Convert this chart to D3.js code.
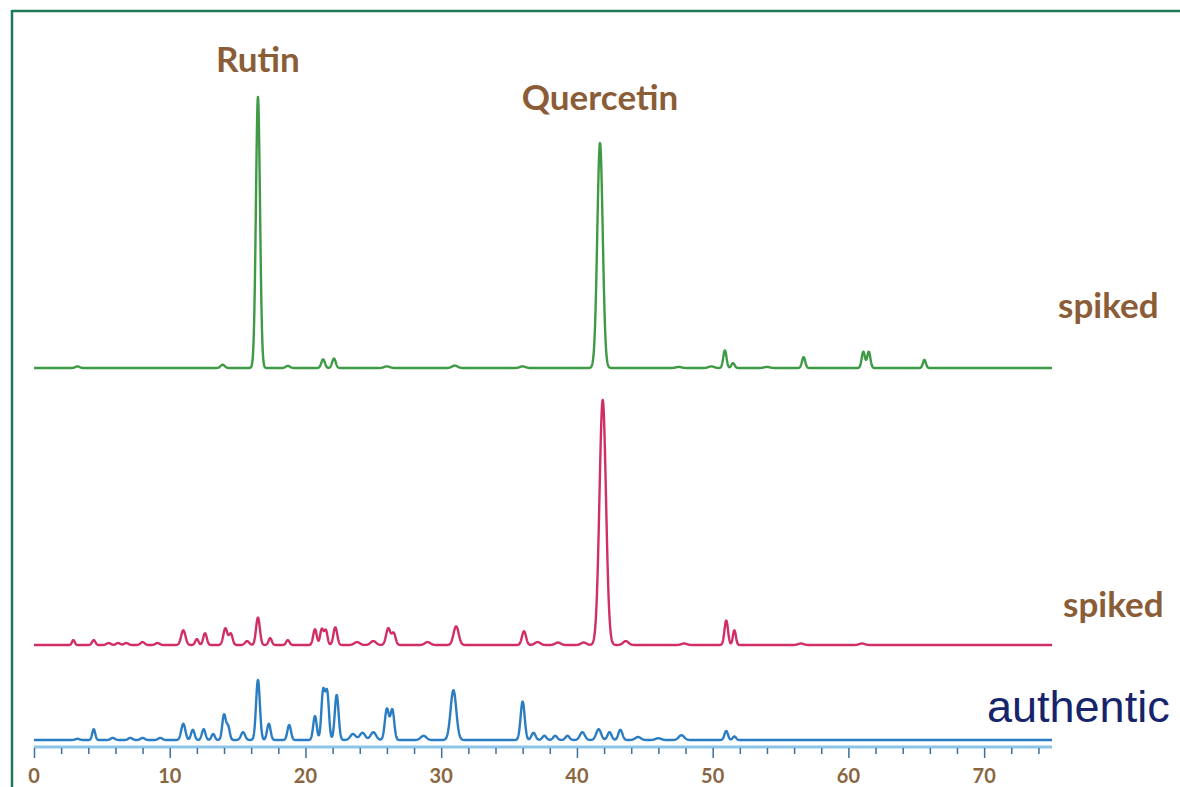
<!DOCTYPE html>
<html>
<head>
<meta charset="utf-8">
<script src="https://cdn.jsdelivr.net/npm/d3@7"></script>
<style>
  body { margin: 0; background: #fff; }
  svg { display: block; }
</style>
</head>
<body>
<svg id="chart" width="1180" height="787"></svg>
<script>
// retention time (min), relative height (% of trace panel), peak width (min)
const spikedTopPeaks = [
  [3.2, 0.6, 0.15], [13.9, 1.2, 0.15], [16.5, 100, 0.15], [18.7, 0.8, 0.15],
  [21.3, 3.2, 0.13], [22.1, 3.5, 0.13], [26.0, 0.6, 0.2], [31.0, 0.9, 0.2],
  [36.0, 0.6, 0.2], [41.7, 83, 0.2], [47.5, 0.4, 0.2], [49.9, 0.6, 0.2],
  [50.9, 6.5, 0.12], [51.5, 1.8, 0.12], [54.0, 0.4, 0.2], [56.7, 4.0, 0.12],
  [61.1, 6.0, 0.12], [61.5, 6.0, 0.12], [65.6, 3.0, 0.11]
]
const spikedMidPeaks = [
  [2.9, 2.0, 0.1], [4.4, 2.0, 0.12], [5.5, 0.8, 0.15], [6.2, 0.8, 0.15],
  [6.8, 0.8, 0.15], [8.0, 1.2, 0.15], [9.1, 0.8, 0.15], [11.0, 6.0, 0.16],
  [12.0, 2.4, 0.12], [12.6, 4.8, 0.13], [14.1, 6.8, 0.15], [14.5, 4.6, 0.13],
  [15.7, 1.6, 0.15], [16.5, 11.2, 0.14], [17.4, 2.8, 0.12], [18.7, 2.0, 0.12],
  [20.7, 6.4, 0.13], [21.2, 6.4, 0.12], [21.5, 6.0, 0.12], [22.2, 7.2, 0.14],
  [23.8, 1.2, 0.2], [25.0, 1.6, 0.2], [26.1, 6.8, 0.16], [26.5, 4.8, 0.14],
  [29.0, 1.2, 0.2], [31.1, 7.6, 0.19], [36.1, 5.6, 0.15], [37.1, 1.2, 0.2],
  [38.6, 1.0, 0.2], [40.5, 1.0, 0.2], [41.9, 100, 0.24], [43.6, 1.6, 0.2],
  [47.9, 0.6, 0.2], [51.0, 10.0, 0.13], [51.6, 6.0, 0.11], [56.5, 0.6, 0.2],
  [61.0, 0.6, 0.2]
]
const authenticPeaks = [
  [3.2, 2.0, 0.15], [4.4, 18, 0.11], [5.8, 3.5, 0.15], [7.1, 3.5, 0.15],
  [8.0, 3.5, 0.15], [9.3, 3.5, 0.15], [11.0, 27, 0.15], [11.7, 17, 0.13],
  [12.5, 18, 0.13], [13.2, 10, 0.12], [14.0, 42, 0.13], [14.3, 22, 0.12],
  [15.4, 13, 0.15], [16.5, 100, 0.14], [17.3, 27, 0.13], [18.8, 25, 0.13],
  [20.7, 40, 0.13], [21.3, 80, 0.13], [21.6, 78, 0.13], [22.3, 75, 0.14],
  [23.5, 10, 0.2], [24.2, 12, 0.2], [25.0, 13, 0.2], [26.0, 52, 0.15],
  [26.4, 50, 0.14], [28.7, 7, 0.2], [30.9, 83, 0.21], [36.0, 64, 0.15],
  [36.8, 12, 0.15], [37.6, 7, 0.15], [38.4, 7, 0.15], [39.3, 7, 0.15],
  [40.4, 13, 0.18], [41.6, 18, 0.18], [42.4, 13, 0.15], [43.2, 17, 0.15],
  [44.5, 5, 0.2], [46.0, 3, 0.2], [47.7, 8, 0.2], [51.0, 15, 0.13],
  [51.6, 6, 0.12]
]

const traceNames = ["spiked", "spiked", "authentic"]
const peakLabels = [["Rutin", 16.5], ["Quercetin", 41.7]]
const tickMajor = [0, 10, 20, 30, 40, 50, 60, 70]
const timeDomain = [0, 75]

const svg = d3.select("#chart")

// green frame (only top and left edge visible)
svg.append("line").attr("x1", 12).attr("y1", 11).attr("x2", 1180).attr("y2", 11)
  .attr("stroke", "#1e7a55").attr("stroke-width", 2.5)
svg.append("line").attr("x1", 12).attr("y1", 10).attr("x2", 12).attr("y2", 787)
  .attr("stroke", "#1e7a55").attr("stroke-width", 2.5)

const x = d3.scaleLinear().domain(timeDomain).range([34, 1052])

// each trace has its own vertical band
const traces = [
  { peaks: spikedTopPeaks, color: "#3f9a45", y: d3.scaleLinear().domain([0, 100]).range([368, 97]) },
  { peaks: spikedMidPeaks, color: "#d12e68", y: d3.scaleLinear().domain([0, 100]).range([645, 400]) },
  { peaks: authenticPeaks, color: "#2a7dc2", y: d3.scaleLinear().domain([0, 100]).range([740, 680]) }
]

function profile(peaks) {
  const pts = []
  for (let t = timeDomain[0]; t <= timeDomain[1] + 1e-9; t += 0.02) {
    let v = 0
    peaks.forEach(([rt, h, w]) => {
      const d = (t - rt) / w
      if (Math.abs(d) < 6) v += h * Math.exp(-0.5 * d * d)
    })
    pts.push([t, v])
  }
  return pts
}

traces.forEach(tr => {
  const line = d3.line().x(d => x(d[0])).y(d => tr.y(d[1]))
  svg.append("path")
    .datum(profile(tr.peaks))
    .attr("fill", "none")
    .attr("stroke", tr.color)
    .attr("stroke-width", 2.4)
    .attr("stroke-linejoin", "round")
    .attr("d", line)
})

// x axis (light blue double line)
const axisY = 747
svg.append("line").attr("x1", x(0)).attr("x2", x(75)).attr("y1", axisY).attr("y2", axisY)
  .attr("stroke", "#8cc3e6").attr("stroke-width", 3)
const axis = d3.axisBottom(x).tickValues(d3.range(0, 76, 2)).tickSize(6).tickFormat("")
const gAxis = svg.append("g").attr("transform", `translate(0,${axisY + 1})`).call(axis)
gAxis.select(".domain").remove()
gAxis.selectAll(".tick line").attr("stroke", "#3d6f9c").attr("stroke-width", 1.5)
  .attr("y2", d => d % 10 === 0 ? 10 : 6)

svg.append("g").selectAll("text")
  .data(tickMajor)
  .join("text")
  .attr("x", d => x(d))
  .attr("y", 783)
  .attr("text-anchor", "middle")
  .attr("font-family", "Lato, 'Open Sans', sans-serif")
  .attr("font-weight", "bold")
  .attr("font-size", 20)
  .attr("fill", "#8a6743")
  .text(d => d)

// compound labels
svg.selectAll(".peak-label")
  .data(peakLabels)
  .join("text")
  .attr("class", "peak-label")
  .attr("x", d => x(d[1]))
  .attr("y", (d, i) => i === 0 ? 72 : 110)
  .attr("text-anchor", "middle")
  .attr("font-family", "Lato, 'Open Sans', sans-serif")
  .attr("font-weight", "bold")
  .attr("font-size", 35)
  .attr("fill", "#8b5d37")
  .text(d => d[0])

// trace names
const nameY = [318, 617, 722]
const nameX = [1058, 1063, 987]
traceNames.forEach((n, i) => {
  const t = svg.append("text")
    .attr("x", nameX[i])
    .attr("y", nameY[i])
    .text(n)
  if (i < 2) {
    t.attr("font-family", "Lato, 'Open Sans', sans-serif")
      .attr("font-weight", "bold").attr("font-size", 35).attr("fill", "#8b5d37")
  } else {
    t.attr("font-family", "'Liberation Sans', Arial, sans-serif")
      .attr("font-size", 45).attr("fill", "#15246b")
  }
})
</script>
</body>
</html>
